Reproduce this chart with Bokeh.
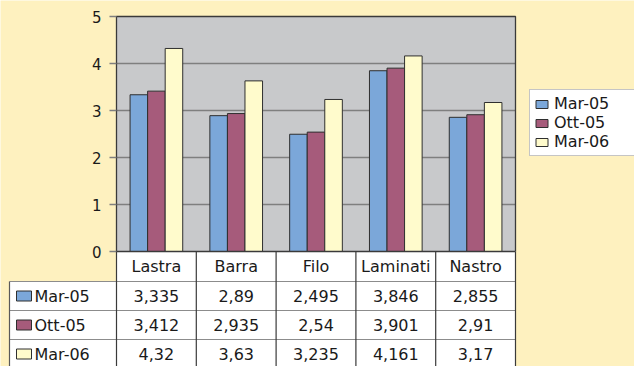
from bokeh.plotting import figure
from bokeh.models import Range1d, Legend, LegendItem
from bokeh.core.properties import value
from bokeh.embed import file_html
from bokeh.resources import INLINE

# ---- data ----
categories = ["Lastra", "Barra", "Filo", "Laminati", "Nastro"]
series_names = ["Mar-05", "Ott-05", "Mar-06"]
mar05 = [3.335, 2.89, 2.495, 3.846, 2.855]
ott05 = [3.412, 2.935, 2.54, 3.901, 2.91]
mar06 = [4.32, 3.63, 3.235, 4.161, 3.17]
y_ticks = [0, 1, 2, 3, 4, 5]

series = [mar05, ott05, mar06]
colors = ["#7BA7D9", "#A65B7B", "#FFFBCC"]
BG = "#FEF1BF"
PLOT_BG = "#C8C9CB"
FONT = value("DejaVu Sans")

# ---- layout constants (pixels) ----
W, H = 634, 366
LEFT, TOP = 116, 16
PX_X = 79.8   # pixels per category
PX_Y = 47.0   # pixels per value unit
YMAX = 5

def dx(px):
    return (px - LEFT) / PX_X

def dy(py):
    return YMAX - (py - TOP) / PX_Y

p = figure(width=W, height=H, output_backend="svg", toolbar_location=None,
           x_range=Range1d(dx(0), dx(W)), y_range=Range1d(dy(H), dy(0)),
           x_axis_type=None, y_axis_type=None, min_border=0,
           background_fill_color=BG, border_fill_color=BG, outline_line_color=None)
p.grid.visible = False

n = len(categories)

# plot area
p.quad(left=[0], right=[n], bottom=[0], top=[YMAX], fill_color=PLOT_BG, line_color=None)
grid_vals = [t for t in y_ticks if 0 < t < YMAX]
p.segment(x0=[0] * len(grid_vals), x1=[n] * len(grid_vals), y0=grid_vals, y1=grid_vals,
          line_color="#7F7F7F", line_width=1.5)

# bars
offsets = [-0.22, 0.0, 0.22]
bar_w = 0.22
renderers = []
for vals, col, off in zip(series, colors, offsets):
    xs = [i + 0.5 + off for i in range(n)]
    r = p.vbar(x=xs, top=vals, bottom=0, width=bar_w, fill_color=col,
               line_color="#2F2F2F", line_width=1)
    renderers.append(r)

# plot-area border (left, top, right)
p.multi_line(xs=[[0, 0, n, n]], ys=[[0, YMAX, YMAX, 0]], line_color="#3A3A3A", line_width=1.3)

# y ticks and labels
tick_len = dx(LEFT - 7)
p.segment(x0=[tick_len] * len(y_ticks), x1=[0] * len(y_ticks), y0=y_ticks, y1=y_ticks,
          line_color="#7F7F7F", line_width=1.5)
p.text(x=[dx(101)] * len(y_ticks), y=y_ticks, text=[str(t) for t in y_ticks],
       text_align="right", text_baseline="middle", text_font=FONT,
       text_font_size="15px", text_color="#1A1A1A")

# ---- data table ----
row_h = 29.0 / PX_Y
hdr_h = 30.0 / PX_Y
tbl_left = dx(9)
row_tops = [-hdr_h - k * row_h for k in range(len(series))]

# header cells
p.quad(left=[0], right=[n], top=[0], bottom=[-hdr_h], fill_color="white", line_color=None)
# body cells
p.quad(left=[tbl_left], right=[n], top=[row_tops[0]], bottom=[dy(H + 10)],
       fill_color="white", line_color=None)

# table lines: horizontal
hy = row_tops
p.segment(x0=[tbl_left] * len(hy), x1=[n] * len(hy), y0=hy, y1=hy,
          line_color="#8C8C8C", line_width=1.2)
p.segment(x0=[0], x1=[n], y0=[0], y1=[0], line_color="#3A3A3A", line_width=1.3)
# vertical lines
bottom_y = dy(H + 10)
vx = list(range(0, n + 1))
p.segment(x0=vx, x1=vx, y0=[0] * len(vx), y1=[bottom_y] * len(vx),
          line_color="#3A3A3A", line_width=1.2)
p.segment(x0=[tbl_left], x1=[tbl_left], y0=[row_tops[0]], y1=[bottom_y],
          line_color="#5A5A5A", line_width=1.2)

# header text
p.text(x=[i + 0.5 for i in range(n)], y=[-hdr_h / 2] * n, text=categories,
       text_align="center", text_baseline="middle", text_font=FONT,
       text_font_size="16px", text_color="#1A1A1A")

# row labels with key squares
key_w = 15.0 / PX_X
key_h = 10.0 / PX_Y
key_l = dx(16)
for k, (name, col, vals) in enumerate(zip(series_names, colors, series)):
    yc = row_tops[k] - row_h / 2
    p.quad(left=[key_l], right=[key_l + key_w], top=[yc + key_h / 2], bottom=[yc - key_h / 2],
           fill_color=col, line_color="#2F2F2F", line_width=1)
    p.text(x=[dx(34)], y=[yc], text=[name], text_align="left", text_baseline="middle",
           text_font=FONT, text_font_size="16px", text_color="#1A1A1A")
    p.text(x=[i + 0.5 for i in range(n)], y=[yc] * n,
           text=[str(v).replace(".", ",") for v in vals],
           text_align="center", text_baseline="middle", text_font=FONT,
           text_font_size="16px", text_color="#1A1A1A")

# ---- legend ----
legend = Legend(items=[LegendItem(label=nm, renderers=[r]) for nm, r in zip(series_names, renderers)],
                location=(529, H - 156), orientation="vertical",
                background_fill_color="white", background_fill_alpha=1.0,
                border_line_color="#8C8C8C", border_line_width=1.2,
                label_text_font="DejaVu Sans", label_text_font_size="16px",
                label_text_color="#1A1A1A",
                glyph_width=15, glyph_height=10, label_height=18, label_width=95,
                spacing=0, padding=4, margin=0, label_standoff=5)
p.add_layout(legend, "center")

open("out.html", "w").write(file_html(p, INLINE))
